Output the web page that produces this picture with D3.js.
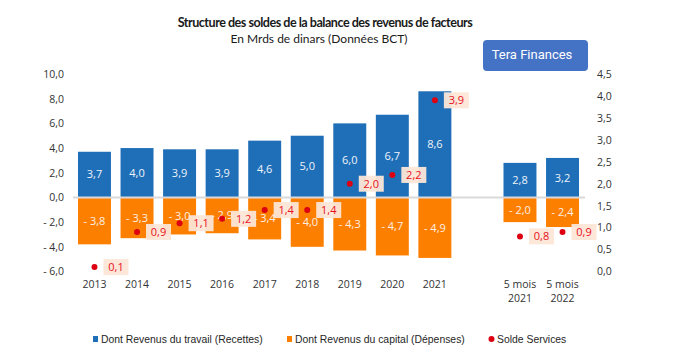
<!DOCTYPE html>
<html><head><meta charset="utf-8">
<script src="https://cdn.jsdelivr.net/npm/d3@7"></script>
<style>body{margin:0;background:#fff}</style></head>
<body><svg id="c" width="681" height="355"></svg>
<script>
const categories = ["2013","2014","2015","2016","2017","2018","2019","2020","2021","","5 mois 2021","5 mois 2022"];
const travail  = [3.7, 4.0, 3.9, 3.9, 4.6, 5.0, 6.0, 6.7, 8.6, null, 2.8, 3.2];
const capital  = [-3.8, -3.3, -3.0, -2.9, -3.4, -4.0, -4.3, -4.7, -4.9, null, -2.0, -2.4];
const services = [0.1, 0.9, 1.1, 1.2, 1.4, 1.4, 2.0, 2.2, 3.9, null, 0.8, 0.9];
const leftTicks  = [-6, -4, -2, 0, 2, 4, 6, 8, 10];
const rightTicks = [0, 0.5, 1, 1.5, 2, 2.5, 3, 3.5, 4, 4.5];
const legendItems = ["Dont Revenus du travail (Recettes)", "Dont Revenus du capital (Dépenses)", "Solde Services"];

const C_BLUE = "#1f6fb8", C_ORANGE = "#fd7f00", C_RED = "#dd0010";
const svg = d3.select("#c");
const fmt = v => { const s = d3.format(".1f")(Math.abs(v)).replace(".", ","); return v < 0 ? "- " + s : s; };

const x = d3.scaleBand().domain(categories).range([73.2, 583.8]).paddingInner(0.225).paddingOuter(0.1125);
const yL = d3.scaleLinear().domain([-6, 10]).range([271.5, 74]);
const yR = d3.scaleLinear().domain([0, 4.5]).range([271.5, 74]);

// Title
svg.append("text").attr("x", 325).attr("y", 27).attr("text-anchor", "middle")
  .attr("font-family", "Lato").attr("font-weight", "bold").attr("font-size", 12.6)
  .attr("letter-spacing", -0.5).attr("fill", "#1a1a1a")
  .text("Structure des soldes de la balance des revenus de facteurs");
svg.append("text").attr("x", 319).attr("y", 43).attr("text-anchor", "middle")
  .attr("font-family", "Lato").attr("font-size", 12).attr("fill", "#1a1a1a")
  .text("En Mrds de dinars (Données BCT)");

// Tera Finances box
svg.append("rect").attr("x", 483).attr("y", 40).attr("width", 105).attr("height", 31).attr("rx", 4)
  .attr("fill", "#4472c4");
svg.append("text").attr("x", 532).attr("y", 54).attr("dy", "0.35em").attr("text-anchor", "middle")
  .attr("font-family", "Roboto").attr("font-size", 13).attr("fill", "#fff").text("Tera Finances");

// Axes (labels only)
const axL = svg.append("g").attr("transform", "translate(64,0)")
  .call(d3.axisLeft(yL).tickValues(leftTicks).tickSize(0).tickPadding(0).tickFormat(fmt));
const axR = svg.append("g").attr("transform", "translate(597,0)")
  .call(d3.axisRight(yR).tickValues(rightTicks).tickSize(0).tickPadding(0).tickFormat(d => d3.format(".1f")(d).replace(".", ",")));
[axL, axR].forEach(a => {
  a.select(".domain").remove();
  a.selectAll("text").attr("font-family", "Open Sans").attr("font-size", 10.5).attr("fill", "#333");
});

const idx = d3.range(categories.length).filter(i => travail[i] !== null);

// Bars
svg.append("g").selectAll("rect").data(idx).join("rect")
  .attr("x", i => x(categories[i])).attr("width", x.bandwidth())
  .attr("y", i => yL(travail[i])).attr("height", i => yL(0) - yL(travail[i]))
  .attr("fill", C_BLUE);
svg.append("g").selectAll("rect").data(idx).join("rect")
  .attr("x", i => x(categories[i])).attr("width", x.bandwidth())
  .attr("y", yL(0)).attr("height", i => yL(capital[i]) - yL(0))
  .attr("fill", C_ORANGE);

// Zero line
svg.append("line").attr("x1", 73).attr("x2", 585).attr("y1", yL(0)).attr("y2", yL(0))
  .attr("stroke", "#d9d9d9").attr("stroke-width", 2);

// Bar labels
const cx = i => x(categories[i]) + x.bandwidth() / 2;
svg.append("g").selectAll("text").data(idx).join("text")
  .attr("x", cx).attr("y", i => (yL(travail[i]) + yL(0)) / 2).attr("dy", "0.35em")
  .attr("text-anchor", "middle").attr("font-family", "Open Sans").attr("font-size", 11)
  .attr("fill", "#eef3fa").text(i => fmt(travail[i]));
svg.append("g").selectAll("text").data(idx).join("text")
  .attr("x", cx).attr("y", i => (yL(capital[i]) + yL(0)) / 2).attr("dy", "0.35em")
  .attr("text-anchor", "middle").attr("font-family", "Open Sans").attr("font-size", 11)
  .attr("fill", "#fdf0e4").text(i => fmt(capital[i]));

// Service points
svg.append("g").selectAll("circle").data(idx).join("circle")
  .attr("cx", cx).attr("cy", i => yR(services[i])).attr("r", 3).attr("fill", C_RED);
const lab = svg.append("g").selectAll("g").data(idx).join("g")
  .attr("transform", i => `translate(${cx(i)},${yR(services[i])})`);
lab.append("rect").attr("x", 9).attr("y", -8).attr("width", 25).attr("height", 16)
  .attr("fill", "#fde6d6").attr("fill-opacity", 0.95);
lab.append("text").attr("x", 21.5).attr("dy", "0.35em").attr("text-anchor", "middle")
  .attr("font-family", "Open Sans").attr("font-size", 11).attr("fill", "#e8101c")
  .text(i => fmt(services[i]));

// X labels
const xl = svg.append("g").selectAll("text").data(idx).join("text")
  .attr("x", cx).attr("y", 288).attr("text-anchor", "middle")
  .attr("font-family", "Open Sans").attr("font-size", 10.5).attr("fill", "#333");
xl.each(function(i) {
  const parts = categories[i].startsWith("5 mois") ? ["5 mois", categories[i].slice(7)] : [categories[i]];
  d3.select(this).selectAll("tspan").data(parts).join("tspan")
    .attr("x", cx(i)).attr("dy", (d, k) => k === 0 ? 0 : 14).text(d => d);
});

// Legend
const lg = svg.append("g").attr("font-family", "Liberation Sans").attr("font-size", 10.4).attr("fill", "#262626");
const lx = [93, 287, 489];
const lc = [C_BLUE, C_ORANGE, C_RED];
legendItems.forEach((t, k) => {
  if (k < 2) lg.append("rect").attr("x", lx[k]).attr("y", 336).attr("width", 5).attr("height", 6).attr("fill", lc[k]);
  else lg.append("circle").attr("cx", lx[k] + 2.5).attr("cy", 339).attr("r", 3).attr("fill", lc[k]);
  lg.append("text").attr("x", lx[k] + 8).attr("y", 339).attr("dy", "0.35em").text(t);
});
</script></body></html>
